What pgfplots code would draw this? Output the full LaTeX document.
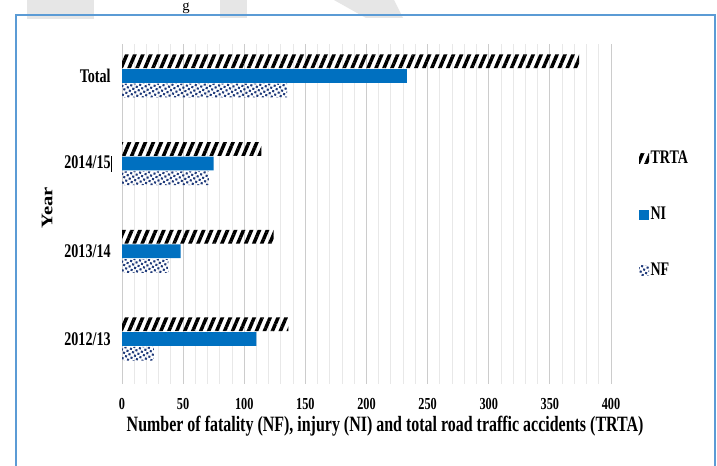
\documentclass[border=0pt]{standalone}
\usepackage{fontspec}
\setmainfont{Liberation Serif}[FakeStretch=0.73]
\newfontfamily\plainserif{Liberation Serif}
\usepackage{pgfplots}
\pgfplotsset{compat=1.18}
\usetikzlibrary{patterns.meta}
\definecolor{niblue}{HTML}{0070C0}
\definecolor{nfnavy}{HTML}{1F3A7A}
\definecolor{framebl}{HTML}{5B9BD5}
\definecolor{wm}{HTML}{E6E6E6}
\begin{document}
\begin{tikzpicture}
\clip (0,0) rectangle (537.75pt,349.5pt);
\fill[white] (0,0) rectangle (537.75pt,349.5pt);
\begin{scope}[x=0.75pt,y=-0.75pt,shift={(0,349.5pt)}]
  \fill[wm] (27,0) rectangle (94,19);
  \fill[wm] (220,0) rectangle (247,18);
  \fill[wm] (334,0) -- (394,0) -- (403,18) -- (366,18) -- cycle;
  \node[anchor=base,inner sep=0pt,font=\plainserif\fontsize{11}{11}\selectfont] at (186,11) {g};
  \draw[framebl,line width=1.5pt] (16,15) rectangle (715,480);
\end{scope}
\begin{axis}[
  at={(91.5pt,61.5pt)}, anchor=south west,
  scale only axis, width=366.75pt, height=255pt,
  xbar, bar width=10.3pt,
  xmin=0, xmax=400, ymin=-0.513, ymax=3.364,
  xtick={0,50,...,400}, minor x tick num=4,
  ytick={0,1,2,3},
  yticklabels={2012/13, 2013/14, {2014/15\rlap{\rule[-2pt]{0.7pt}{12pt}}}, Total},
  xmajorgrids, xminorgrids,
  major grid style={draw=black!20, line width=0.7pt},
  minor grid style={draw=black!9, line width=0.7pt},
  axis line style={draw=none},
  major tick length=0pt, minor tick length=0pt,
  /pgf/number format/assume math mode=true,
  x tick label style={font=\bfseries\fontsize{12.6}{13}\selectfont, yshift=-7.5pt},
  y tick label style={font=\bfseries\fontsize{14.5}{15}\selectfont, xshift=-5pt},
  xlabel={Number of fatality (NF), injury (NI) and total road traffic accidents (TRTA)},
  xlabel style={at={(rel axis cs:0.538,0)}, anchor=base, yshift=-36pt, font=\bfseries\fontsize{16.4}{17}\selectfont},
  ylabel={\scalebox{1}[0.78]{Year}},
  ylabel style={at={(rel axis cs:-0.153,0.518)}, anchor=center, font=\plainserif\bfseries\fontsize{15.5}{16}\selectfont},
  clip=false,
  legend style={draw=none, fill=none, at={(rel axis cs:1.049,0.697)}, anchor=north west,
    font=\bfseries\fontsize{14.4}{15}\selectfont, row sep=29pt,
    nodes={inner sep=1pt}},
  legend cell align=left,
  legend image code/.code={\path[#1,draw=none] (0pt,-3.75pt) rectangle (7.5pt,3.75pt);},
]
\addplot[draw=none, bar shift=11pt, pattern={Lines[angle=67,distance=5.5pt,line width=2.6pt]}, pattern color=black]
  coordinates {(136,0) (124,1) (114,2) (374,3)};
\addplot[draw=none, bar shift=0pt, fill=niblue]
  coordinates {(110,0) (48,1) (75,2) (233,3)};
\addplot[draw=none, bar shift=-11pt, pattern={Dots[distance=3pt,radius=1.1pt,angle=30]}, pattern color=nfnavy]
  coordinates {(26,0) (38,1) (71,2) (135,3)};
\legend{TRTA, NI, NF}
\end{axis}
\end{tikzpicture}
\end{document}
